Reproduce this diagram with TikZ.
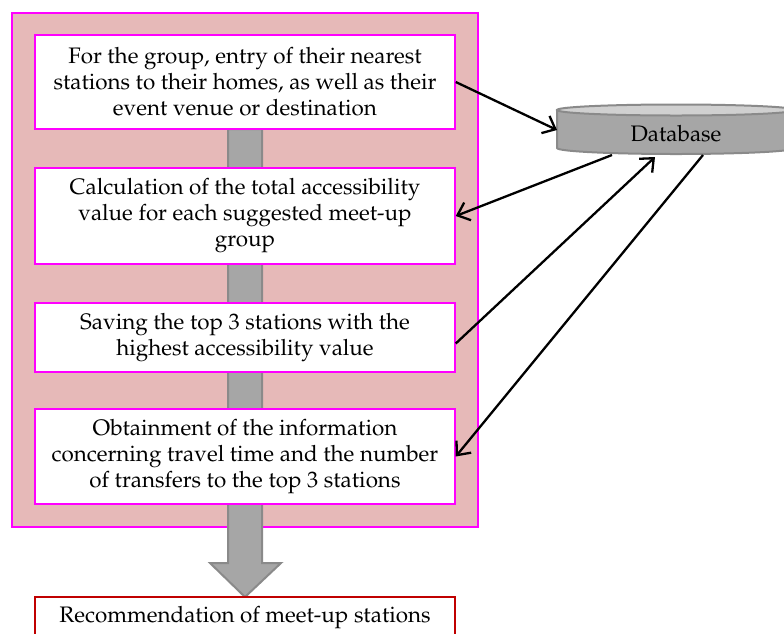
\documentclass[tikz,border=0pt]{standalone}
\usepackage[T1]{fontenc}
\usepackage{mathpazo}
\usetikzlibrary{arrows.meta}
\definecolor{pinkfill}{HTML}{E6B9B8}
\definecolor{mag}{HTML}{FF00FF}
\definecolor{darkred}{HTML}{C00000}
\definecolor{grayfill}{HTML}{A6A6A6}
\definecolor{grayline}{HTML}{8A8A8A}
\definecolor{graytop}{HTML}{D0D0D0}
\tikzset{
  txt/.style={font=\fontsize{22.4}{26}\selectfont},
  stepbox/.style={txt, draw=mag, line width=1.5pt, fill=white, minimum width=420pt, align=center, inner sep=0pt},
  finalbox/.style={txt, draw=darkred, line width=1.5pt, fill=white, minimum width=420pt, align=center, inner xsep=0pt, inner ysep=10pt},
  conn/.style={line width=2.3pt, -{Straight Barb[length=11pt,width=19pt,line width=2.3pt]}},
}
\begin{document}
\begin{tikzpicture}[x=1pt,y=-1pt]
\useasboundingbox (0,0) rectangle (784,633);
% outer panel
\node[draw=mag, fill=pinkfill, line width=1.5pt, minimum width=466pt, minimum height=514pt, inner sep=0pt] (panel) at (245,270) {};
% big gray arrow
\draw[fill=grayfill, draw=grayline, line width=2pt, line join=miter]
  (228,129) -- (262,129) -- (262,563) -- (281,563) -- (245,597) -- (210,563) -- (228,563) -- cycle;
% step boxes
\node[stepbox, minimum height=94pt] (b1) at (245,82) {For the group, entry of their nearest\\stations to their homes, as well as their\\event venue  or destination};
\node[stepbox, minimum height=96pt] (b2) at (245,216) {Calculation of the total accessibility\\value for each suggested meet-up\\group};
\node[stepbox, minimum height=69pt] (b3) at (245,337.5) {Saving the top 3 stations with the\\highest accessibility value};
\node[stepbox, minimum height=95pt] (b4) at (245,456.5) {Obtainment of the information\\concerning travel time and the number\\of transfers to the top 3 stations};
\node[finalbox, anchor=north] (b5) at (245,596) {Recommendation of meet-up stations};
% database cylinder
\draw[fill=grayfill, draw=grayline, line width=2pt]
  (557,110) -- (557,148) arc[start angle=180, end angle=0, x radius=119, y radius=6] -- (795,110) -- cycle;
\draw[fill=graytop, draw=grayline, line width=2pt] (676,110) ellipse[x radius=119, y radius=5.5];
\node[txt, inner sep=0pt] (db) at (676,134) {Database};
\coordinate (dbA) at (557,130);
\coordinate (dbB) at (612,155);
\coordinate (dbC) at (655,157);
\coordinate (dbD) at (703,155);
% connectors
\draw[conn] (b1.east) -- (dbA);
\draw[conn] (dbB) -- (b2.east);
\draw[conn] ([yshift=-6pt]b3.east) -- (dbC);
\draw[conn] (dbD) -- (b4.east);
\end{tikzpicture}
\end{document}
